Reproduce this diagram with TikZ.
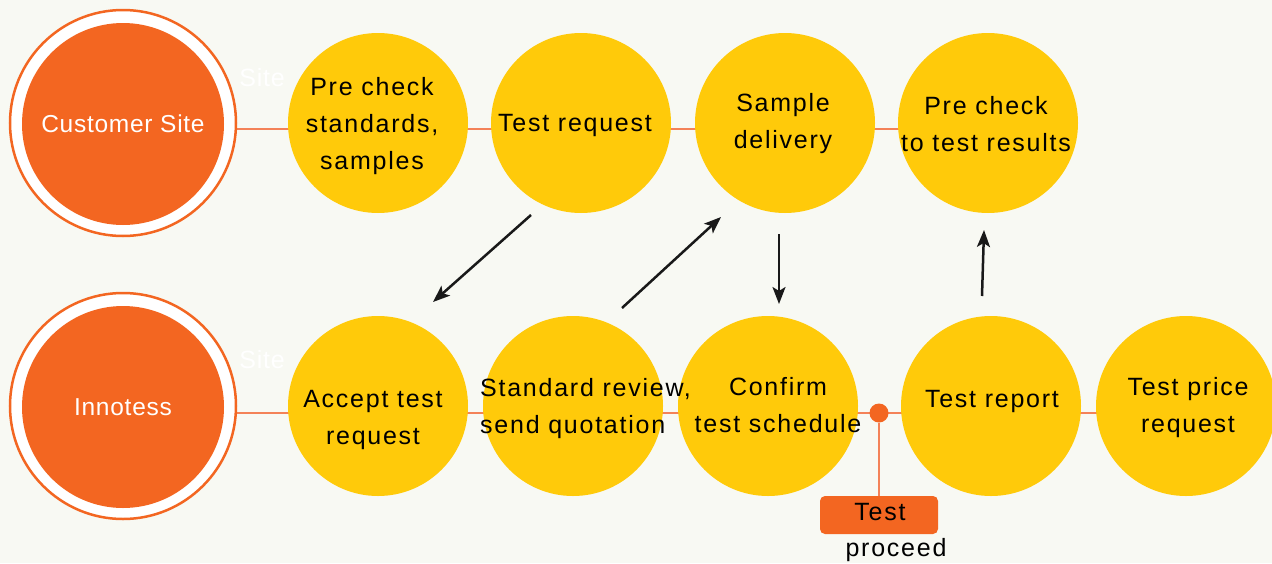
\documentclass[tikz,border=0pt]{standalone}
\usepackage{fontspec}
\setmainfont{Liberation Sans}[LetterSpace=7]
\newfontfamily\whitefont{Liberation Sans}[LetterSpace=3]
\usetikzlibrary{arrows.meta}
\definecolor{bg}{HTML}{F8F9F3}
\definecolor{org}{HTML}{F36621}
\definecolor{orgline}{HTML}{F48258}
\definecolor{yel}{HTML}{FFCA0A}
\tikzset{
  bubble/.style={circle, fill=yel, minimum size=180pt, inner sep=0pt},
  txt/.style={align=center, inner sep=0pt, text=black, font=\fontsize{25}{37}\selectfont},
  ring/.style={circle, draw=org, line width=2.5pt, fill=white, minimum size=226pt, inner sep=0pt},
  core/.style={circle, fill=org, minimum size=202pt, inner sep=0pt, text=white, font=\whitefont\fontsize{24.5}{28}\selectfont},
  ghost/.style={inner sep=0pt, text=white, font=\whitefont\fontsize{25}{28}\selectfont},
  link/.style={draw=orgline, line width=2pt},
  flow/.style={draw=black!90, line width=2.5pt, -{Stealth[length=17pt,width=13pt,inset=4pt]}},
}
\begin{document}
\begin{tikzpicture}[x=1pt,y=-1pt]
\fill[bg] (0,0) rectangle (1272,563);
\useasboundingbox (0,0) rectangle (1272,563);

% connecting lines
\coordinate (lt0) at (237,129);
\coordinate (lt1) at (988,129);
\coordinate (lb0) at (237,413);
\coordinate (lb1) at (1186,413);
\draw[link] (lt0) -- (lt1);
\draw[link] (lb0) -- (lb1);

% ghost labels
\node[ghost] (g1) at (262,78) {Site};
\node[ghost] (g2) at (262,360) {Site};

% big circles
\node[ring] (custR) at (123,123) {};
\node[core] (cust) at (123,124) {Customer Site};
\node[ring] (innoR) at (123,406) {};
\node[core] (inno) at (123,407) {Innotess};

% top row
\node[bubble] (c1) at (378,123) {};
\node[bubble] (c2) at (581,123) {};
\node[bubble] (c3) at (785,123) {};
\node[bubble] (c4) at (988,123) {};
% bottom row
\node[bubble] (d1) at (378,406) {};
\node[bubble] (d2) at (573,406) {};
\node[bubble] (d3) at (768,406) {};
\node[bubble] (d4) at (991,406) {};
\node[bubble] (d5) at (1186,406) {};

% texts
\node[txt] (t1) at (372,126) {Pre check\\standards,\\samples};
\node[txt] (t2) at (575,125) {Test request};
\node[txt] (t3) at (783,124) {Sample\\delivery};
\node[txt] (t4) at (986,124) {Pre check\\to test results};
\node[txt] (u1) at (373,420) {Accept test\\request};
\node[txt, align=left, anchor=west] (u2) at (480,409) {Standard review,\\send quotation};
\node[txt] (u3) at (778,405) {Confirm\\test schedule};
\node[txt] (u4) at (992,401) {Test report};
\node[txt] (u5) at (1188,408) {Test price\\request};

% test proceed marker
\node[circle, fill=org, minimum size=19pt, inner sep=0pt] (dot) at (879,413) {};
\node[fill=org, rounded corners=5pt, minimum width=118pt, minimum height=38pt, inner sep=0pt] (box) at (879,515) {};
\draw[link] (dot) -- (box.north);
\node[txt] (bt) at (880,512) {Test};
\node[txt, anchor=base] (pr) at (896,556) {proceed};

% arrows
\coordinate (a1s) at (531,215); \coordinate (a1e) at (433,302);
\coordinate (a2s) at (622,308); \coordinate (a2e) at (721,217);
\coordinate (a3s) at (779,234); \coordinate (a3e) at (779,304);
\coordinate (a4s) at (982,296); \coordinate (a4e) at (984,230);
\draw[flow] (a1s) -- (a1e);
\draw[flow] (a2s) -- (a2e);
\draw[flow] (a3s) -- (a3e);
\draw[flow] (a4s) -- (a4e);
\end{tikzpicture}
\end{document}
